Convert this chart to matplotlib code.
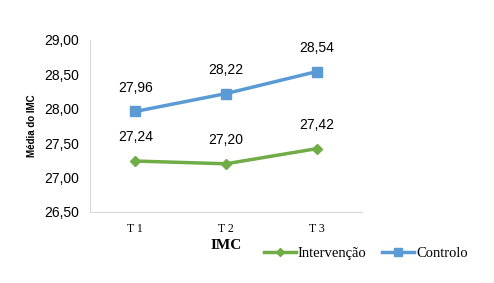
import matplotlib
matplotlib.use("Agg")
import matplotlib.pyplot as plt

categorias = ["T 1", "T 2", "T 3"]
intervencao = [27.24, 27.20, 27.42]
controlo = [27.96, 28.22, 28.54]
yticks = [26.5, 27.0, 27.5, 28.0, 28.5, 29.0]

fig = plt.figure(figsize=(4.94, 2.83), dpi=100)
ax = fig.add_axes([0.182, 0.251, 0.551, 0.608])

x = range(len(categorias))
ax.plot(x, intervencao, color="#70AD47", lw=2.5, marker="D", ms=5, label="Intervenção")
ax.plot(x, controlo, color="#5B9BD5", lw=2.5, marker="s", ms=7, label="Controlo")

for i, v in enumerate(intervencao):
    ax.annotate(f"{v:.2f}".replace(".", ","), (i, v), xytext=(0, 12), textcoords="offset points",
                ha="center", va="bottom", fontsize=10, family="Liberation Sans")
for i, v in enumerate(controlo):
    ax.annotate(f"{v:.2f}".replace(".", ","), (i, v), xytext=(0, 12), textcoords="offset points",
                ha="center", va="bottom", fontsize=10, family="Liberation Sans")

ax.set_xlim(-0.5, 2.5)
ax.set_ylim(26.5, 29.0)
ax.set_xticks(list(x))
ax.set_xticklabels(categorias, family="Liberation Serif", fontsize=8.5)
ax.set_yticks(yticks)
ax.set_yticklabels([f"{t:.2f}".replace(".", ",") for t in yticks], family="Liberation Sans", fontsize=10)
ax.tick_params(length=0, pad=8)

for s in ["top", "right"]:
    ax.spines[s].set_visible(False)
for s in ["left", "bottom"]:
    ax.spines[s].set_color("#D9D9D9")

ax.set_ylabel("Média do IMC", family="Liberation Sans", fontsize=7, fontweight="bold", labelpad=5)
fig.text(0.457, 0.12, "IMC", family="Liberation Serif", fontsize=11, fontweight="bold", ha="center")

fig.legend(loc="center left", bbox_to_anchor=(0.508, 0.105), ncol=2, frameon=False,
           prop={"family": "Liberation Serif", "size": 10.5}, handlelength=2.2,
           handletextpad=0.1, columnspacing=1.1, markerscale=0.8)

fig.savefig("out.png", dpi=100)
